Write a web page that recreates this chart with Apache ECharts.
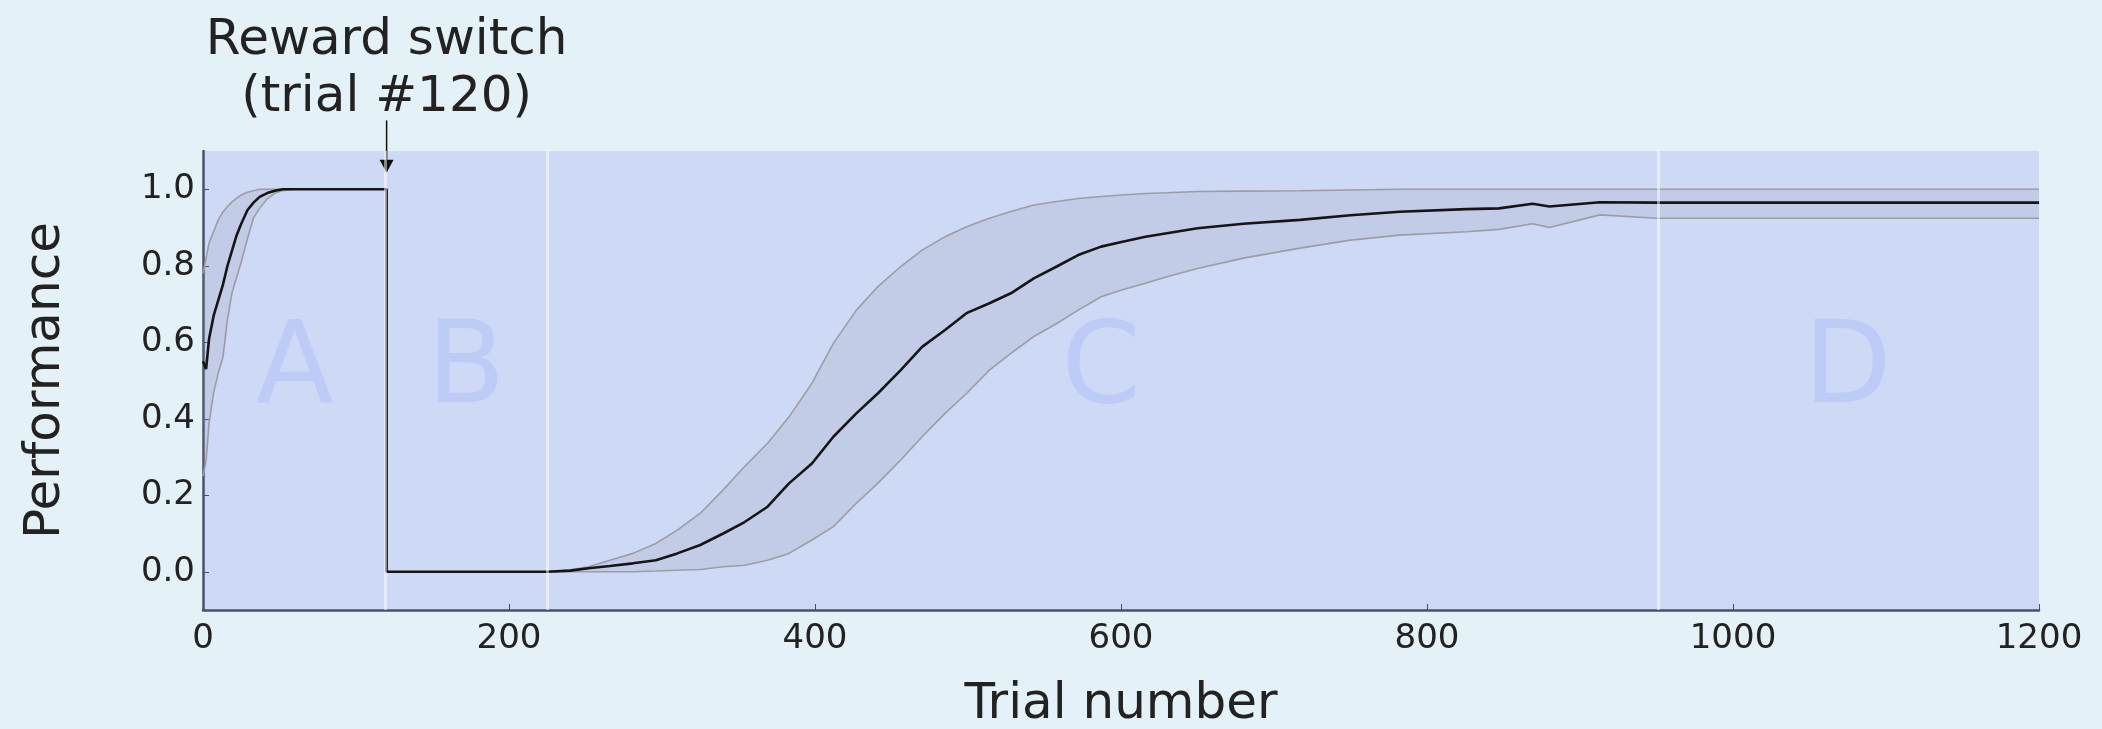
<!DOCTYPE html>
<html>
<head>
<meta charset="utf-8">
<script src="https://cdn.jsdelivr.net/npm/echarts@6/dist/echarts.min.js"></script>
<style>
html, body { margin: 0; padding: 0; background: #e4f2f7; }
#main { width: 2102px; height: 729px; }
</style>
</head>
<body>
<div id="main"></div>
<script>
// trial positions shared by the mean and the two bound curves
var trials = [0, 2, 4, 7, 10, 13, 16, 19, 22, 25, 29, 33, 37, 42, 47, 52, 60, 80, 100, 120,
	120, 150, 200, 225,
	240, 252, 266, 281, 296, 310, 325, 340, 354, 369,
	383, 398, 412, 427, 441, 456, 470, 485, 499, 514,
	528, 543, 558, 572, 587, 601, 616, 630, 650, 680,
	717, 750, 782, 826, 847, 869, 880, 913, 950, 1000,
	1100, 1200];

var meanPerf = [0.55, 0.53, 0.61, 0.67, 0.71, 0.75, 0.80, 0.84, 0.88, 0.91, 0.945, 0.965, 0.98, 0.99, 0.996, 1.0, 1.0, 1.0, 1.0, 1.0,
	0, 0, 0, 0,
	0.003, 0.009, 0.015, 0.022, 0.03, 0.048, 0.07, 0.10, 0.13, 0.17,
	0.231, 0.283, 0.353, 0.414, 0.466, 0.527, 0.588, 0.632, 0.676, 0.702,
	0.728, 0.767, 0.798, 0.828, 0.85, 0.863, 0.876, 0.885, 0.898, 0.91,
	0.92, 0.932, 0.941, 0.948, 0.95, 0.962, 0.955, 0.966, 0.965, 0.965,
	0.965, 0.965];

var upperPerf = [0.78, 0.82, 0.86, 0.89, 0.92, 0.94, 0.955, 0.967, 0.977, 0.985, 0.992, 0.996, 1.0, 1.0, 1.0, 1.0, 1.0, 1.0, 1.0, 1.0,
	0, 0, 0, 0,
	0.005, 0.013, 0.03, 0.048, 0.074, 0.109, 0.153, 0.214, 0.275, 0.336,
	0.405, 0.493, 0.597, 0.684, 0.745, 0.798, 0.841, 0.876, 0.902, 0.924,
	0.942, 0.959, 0.968, 0.976, 0.981, 0.985, 0.989, 0.991, 0.994, 0.995,
	0.996, 0.998, 1.0, 1.0, 1.0, 1.0, 1.0, 1.0, 1.0, 1.0,
	1.0, 1.0];

var lowerPerf = [0.25, 0.29, 0.39, 0.47, 0.52, 0.56, 0.66, 0.73, 0.77, 0.81, 0.87, 0.925, 0.95, 0.975, 0.99, 0.996, 1.0, 1.0, 1.0, 1.0,
	0, 0, 0, 0,
	0, 0, 0, 0, 0.002, 0.004, 0.006, 0.013, 0.017, 0.03,
	0.048, 0.083, 0.118, 0.179, 0.231, 0.292, 0.353, 0.414, 0.466, 0.527,
	0.571, 0.615, 0.649, 0.684, 0.719, 0.737, 0.754, 0.771, 0.793, 0.82,
	0.846, 0.867, 0.88, 0.889, 0.895, 0.91, 0.90, 0.933, 0.924, 0.924,
	0.924, 0.924];

// phases
var phaseNames = ['A', 'B', 'C', 'D'];
var phaseCenters = [60, 172, 587, 1075];
var phaseBounds = [119, 225, 951];
var switchTrial = 120;

var yTicks = [0, 0.2, 0.4, 0.6, 0.8, 1.0];

var font = '"DejaVu Sans", "Liberation Sans", sans-serif';

var pairs = function(vals){
	return trials.map(function(t, i){ return [t, vals[i]]; });
};

var chart = echarts.init(document.getElementById('main'));

// shaded region between lower and upper curves
var renderBand = function(params, api){
	var pts = [];
	for(var i = 0; i < trials.length; i++){
		pts.push(api.coord([trials[i], upperPerf[i]]));
	}
	for(var j = trials.length - 1; j >= 0; j--){
		pts.push(api.coord([trials[j], lowerPerf[j]]));
	}
	return {
		type: 'polygon',
		shape: { points: pts },
		style: { fill: 'rgba(140,140,165,0.17)', stroke: 'none' },
		silent: true
	};
};

chart.setOption({
	backgroundColor: '#e4f2f7',
	animation: false,
	grid: {
		left: 203,
		right: 63,
		top: 151,
		bottom: 119,
		outerBoundsMode: 'none',
		containLabel: false,
		show: true,
		backgroundColor: '#cdd9f5',
		borderWidth: 0
	},
	xAxis: {
		type: 'value',
		min: 0,
		max: 1200,
		interval: 200,
		name: 'Trial number',
		nameLocation: 'middle',
		nameGap: 70,
		nameTextStyle: { fontFamily: font, fontSize: 50, color: '#222' },
		axisLine: { show: true, onZero: false, lineStyle: { color: '#4b5068', width: 2.5 } },
		axisTick: { show: true, inside: true, length: 6, lineStyle: { color: '#4b5068', width: 1 } },
		axisLabel: {
			fontFamily: font, fontSize: 34, color: '#222', margin: 12,
			formatter: function(v){ return String(v); }
		},
		splitLine: { show: false }
	},
	yAxis: {
		type: 'value',
		min: -0.1,
		max: 1.1,
		name: 'Performance',
		nameLocation: 'middle',
		nameGap: 132,
		nameTextStyle: { fontFamily: font, fontSize: 50, color: '#222' },
		axisLine: { show: true, onZero: false, lineStyle: { color: '#4b5068', width: 2.5 } },
		axisTick: { show: true, inside: true, length: 6, customValues: yTicks, lineStyle: { color: '#4b5068', width: 1 } },
		axisLabel: {
			fontFamily: font, fontSize: 34, color: '#222', margin: 8,
			customValues: yTicks,
			formatter: function(v){ return v.toFixed(1); }
		},
		splitLine: { show: false }
	},
	series: [
		{
			// phase letters + phase separators
			name: 'phases',
			type: 'scatter',
			z: 1,
			silent: true,
			symbolSize: 0,
			data: phaseNames.map(function(n, i){ return { value: [phaseCenters[i], 0.52], name: n }; }),
			label: {
				show: true,
				position: 'inside',
				formatter: '{b}',
				fontFamily: font,
				fontSize: 114,
				color: '#bcc7f8'
			},
			markLine: {
				silent: true,
				symbol: ['none', 'none'],
				label: { show: false },
				lineStyle: { color: 'rgba(255,255,255,0.5)', width: 3, type: 'solid' },
				data: phaseBounds.map(function(b){ return { xAxis: b }; })
			}
		},
		{
			name: 'band',
			type: 'custom',
			z: 2,
			silent: true,
			renderItem: renderBand,
			data: [0]
		},
		{
			name: 'upper',
			type: 'line',
			z: 3,
			showSymbol: false,
			lineStyle: { color: '#9c9ca4', width: 1.6 },
			data: pairs(upperPerf)
		},
		{
			name: 'lower',
			type: 'line',
			z: 3,
			showSymbol: false,
			lineStyle: { color: '#9c9ca4', width: 1.6 },
			data: pairs(lowerPerf)
		},
		{
			name: 'mean',
			type: 'line',
			z: 4,
			showSymbol: false,
			lineStyle: { color: '#151515', width: 2.6 },
			data: pairs(meanPerf)
		}
	]
});

// annotation: text + arrow above the switch trial
var sx = chart.convertToPixel({ xAxisIndex: 0 }, switchTrial);
var yStart = chart.convertToPixel({ yAxisIndex: 0 }, 1.18);
var yTip = chart.convertToPixel({ yAxisIndex: 0 }, 1.043);
chart.setOption({
	graphic: [{
		type: 'text',
		x: sx,
		y: 13,
		silent: true,
		style: {
			text: 'Reward switch\n(trial #120)',
			font: '50px ' + font,
			fill: '#222',
			align: 'center',
			textAlign: 'center',
			verticalAlign: 'top',
			lineHeight: 57
		}
	}, {
		type: 'line',
		silent: true,
		shape: { x1: sx, y1: yStart, x2: sx, y2: yTip - 10 },
		style: { stroke: '#111', lineWidth: 1.5 }
	}, {
		type: 'polygon',
		silent: true,
		shape: { points: [[sx - 7, yTip - 13], [sx + 7, yTip - 13], [sx, yTip]] },
		style: { fill: '#111' }
	}]
});

window.onresize = function(){
	chart.resize();
}
</script>
</body>
</html>
